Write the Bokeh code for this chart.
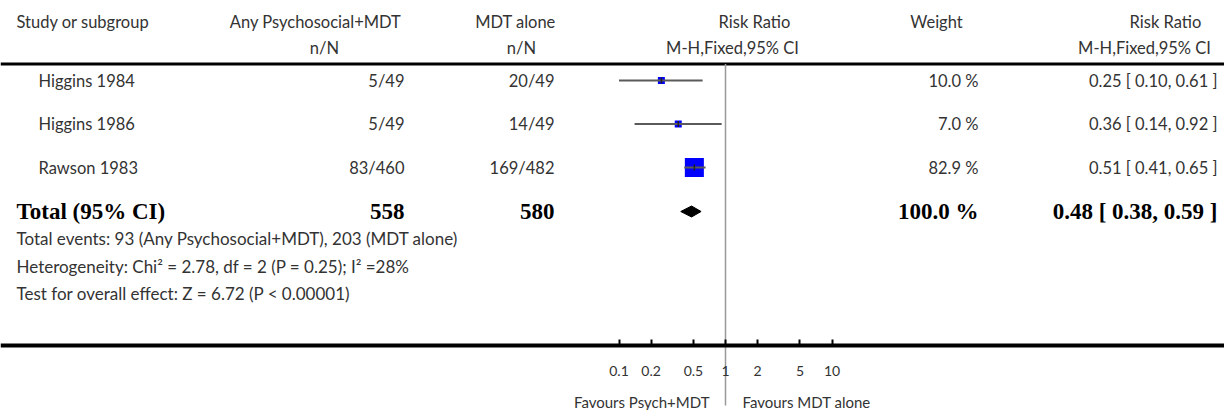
import math
from bokeh.plotting import figure
from bokeh.models import (Range1d, LogScale, LogAxis, FixedTicker,
                          CustomJSTickFormatter, ColumnDataSource)
from bokeh.core.properties import value
from bokeh.embed import file_html
from bokeh.resources import INLINE

# ---------------- data ----------------
studies = ["Higgins 1984", "Higgins 1986", "Rawson 1983"]
psych_events = [5, 5, 83]
psych_totals = [49, 49, 460]
mdt_events = [20, 14, 169]
mdt_totals = [49, 49, 482]
weights = [10.0, 7.0, 82.9]
risk_ratios = [0.25, 0.36, 0.51]
ci_lower = [0.10, 0.14, 0.41]
ci_upper = [0.61, 0.92, 0.65]
pooled_rr = 0.48
pooled_lower = 0.38
pooled_upper = 0.59
pooled_weight = 100.0
chi2 = 2.78
het_df = 2
het_p = 0.25
i2 = 28
z_value = 6.72
z_p = "0.00001"
null_value = 1
axis_ticks = [0.1, 0.2, 0.5, 1, 2, 5, 10]
group1 = "Any Psychosocial+MDT"
group2 = "MDT alone"
favours_left = "Favours Psych+MDT"
favours_right = "Favours MDT alone"

# ---------------- layout ----------------
W, H = 1224, 410
ONE_X = 725.0        # screen x of RR = 1
DECADE = 106.5       # px per log10 unit
FONT = "Lato"
BOLD = "Liberation Serif"
TXT = "#333333"
FS = "16.5px"
FOOT_FS = "17px"
BFS = "23px"

X_LEFT, X_STUDY = 16, 38
X_G1_HEAD, X_G1_NN, X_G1_DATA = 315, 324, 404
X_G2_HEAD, X_G2_NN, X_G2_DATA = 515, 521, 554
X_RR_HEAD, X_MH_HEAD = 754, 732
X_W_HEAD, X_W_DATA = 936, 978
X_RR2_HEAD, X_MH2_HEAD, X_RR_DATA = 1165, 1144, 1217

Y_HEAD1, Y_HEAD2, Y_RULE = 21, 47, 63.5
ROW0, ROW_GAP = 80, 43.5
Y_TOTAL = 211
Y_FOOT0, FOOT_GAP = 238, 27.5
Y_AXIS = 345
Y_FAV = 401

row_y = [ROW0 + i * ROW_GAP for i in range(len(studies))]

lo = 10 ** (-ONE_X / DECADE)
hi = 10 ** ((W - ONE_X) / DECADE)

p = figure(width=W, height=H, x_range=Range1d(0, W), y_range=Range1d(H, 0),
           output_backend="svg", toolbar_location=None,
           x_axis_location=None, y_axis_location=None,
           min_border=0, outline_line_color=None)
p.extra_x_ranges = {"rr": Range1d(lo, hi)}
p.extra_x_scales = {"rr": LogScale()}
p.background_fill_color = "white"
p.grid.visible = False


def txt(x, y, t, align="left", font=FONT, size=FS, color=TXT, style="normal"):
    src = ColumnDataSource(dict(x=x, y=y, t=t))
    p.text(x="x", y="y", text="t", source=src, text_align=align,
           text_baseline="middle", text_font=value(font), text_font_size=size,
           text_color=color, text_font_style=style)


# headers
txt([X_LEFT], [Y_HEAD1], ["Study or subgroup"])
txt([X_G1_HEAD, X_G2_HEAD, X_RR_HEAD, X_W_HEAD, X_RR2_HEAD], [Y_HEAD1] * 5,
    [group1, group2, "Risk Ratio", "Weight", "Risk Ratio"], align="center")
txt([X_G1_NN, X_G2_NN, X_MH_HEAD, X_MH2_HEAD], [Y_HEAD2] * 4,
    ["n/N", "n/N", "M-H,Fixed,95% CI", "M-H,Fixed,95% CI"], align="center")

# top rule
p.segment(x0=[0], x1=[W], y0=[Y_RULE], y1=[Y_RULE], line_color="black", line_width=3)

# null line
p.segment(x0=[null_value], x1=[null_value], y0=[Y_RULE], y1=[H - 5],
          x_range_name="rr", line_color="#9a9a9a", line_width=1.5)

# study rows
txt([X_STUDY] * len(studies), row_y, studies)
txt([X_G1_DATA] * 3, row_y, [f"{e}/{n}" for e, n in zip(psych_events, psych_totals)], align="right")
txt([X_G2_DATA] * 3, row_y, [f"{e}/{n}" for e, n in zip(mdt_events, mdt_totals)], align="right")
txt([X_W_DATA] * 3, row_y, [f"{w:.1f} %" for w in weights], align="right")
txt([X_RR_DATA] * 3, row_y,
    [f"{r:.2f} [ {l:.2f}, {u:.2f} ]" for r, l, u in zip(risk_ratios, ci_lower, ci_upper)],
    align="right")

sizes = [max(7.0, 2.09 * math.sqrt(w)) for w in weights]
fsrc = ColumnDataSource(dict(rr=risk_ratios, lo=ci_lower, hi=ci_upper, y=row_y,
                             s=sizes, ya=[y - 3 for y in row_y], yb=[y + 3 for y in row_y]))
p.scatter(x="rr", y="y", size="s", marker="square", source=fsrc, x_range_name="rr",
          fill_color="#0000ff", line_color=None)
p.segment(x0="lo", x1="hi", y0="y", y1="y", source=fsrc, x_range_name="rr",
          line_color="#5a5a5a", line_width=2)
p.segment(x0="rr", x1="rr", y0="ya", y1="yb", source=fsrc, x_range_name="rr",
          line_color="#222222", line_width=1.5)

# total row
txt([X_LEFT], [Y_TOTAL], ["Total (95% CI)"], font=BOLD, size=BFS, color="black", style="bold")
txt([X_G1_DATA, X_G2_DATA, X_W_DATA, X_RR_DATA], [Y_TOTAL] * 4,
    [str(sum(psych_totals)), str(sum(mdt_totals)), f"{pooled_weight:.1f} %",
     f"{pooled_rr:.2f} [ {pooled_lower:.2f}, {pooled_upper:.2f} ]"],
    align="right", font=BOLD, size=BFS, color="black", style="bold")
p.patches(xs=[[pooled_lower, pooled_rr, pooled_upper, pooled_rr]],
          ys=[[Y_TOTAL, Y_TOTAL - 5.5, Y_TOTAL, Y_TOTAL + 5.5]],
          x_range_name="rr", fill_color="black", line_color="black", line_width=1)

# footnotes
foot = [
    f"Total events: {sum(psych_events)} ({group1}), {sum(mdt_events)} ({group2})",
    f"Heterogeneity: Chi\u00b2 = {chi2:.2f}, df = {het_df} (P = {het_p:.2f}); I\u00b2 ={i2}%",
    f"Test for overall effect: Z = {z_value:.2f} (P < {z_p})",
]
txt([X_LEFT] * 3, [Y_FOOT0 + i * FOOT_GAP for i in range(3)], foot, size=FOOT_FS)

# axis
ax = LogAxis(x_range_name="rr", ticker=FixedTicker(ticks=axis_ticks, minor_ticks=[]),
             formatter=CustomJSTickFormatter(code="return tick.toString();"),
             fixed_location=Y_AXIS, axis_line_width=4, axis_line_color="black",
             major_tick_in=6, major_tick_out=0, major_tick_line_width=2,
             minor_tick_in=0, minor_tick_out=0, major_label_standoff=20,
             major_label_text_font=FONT, major_label_text_font_size="14px",
             major_label_text_color=TXT)
p.add_layout(ax, "below")

# favours
fav = ColumnDataSource(dict(x=[null_value, null_value], y=[Y_FAV, Y_FAV],
                            t=[favours_left, favours_right], a=["right", "left"],
                            o=[-16, 17]))
p.text(x="x", y="y", text="t", source=fav, x_range_name="rr", text_align="a",
       x_offset="o", text_baseline="middle", text_font=value(FONT),
       text_font_size="15px", text_color=TXT)

open("out.html", "w").write(file_html(p, INLINE))
